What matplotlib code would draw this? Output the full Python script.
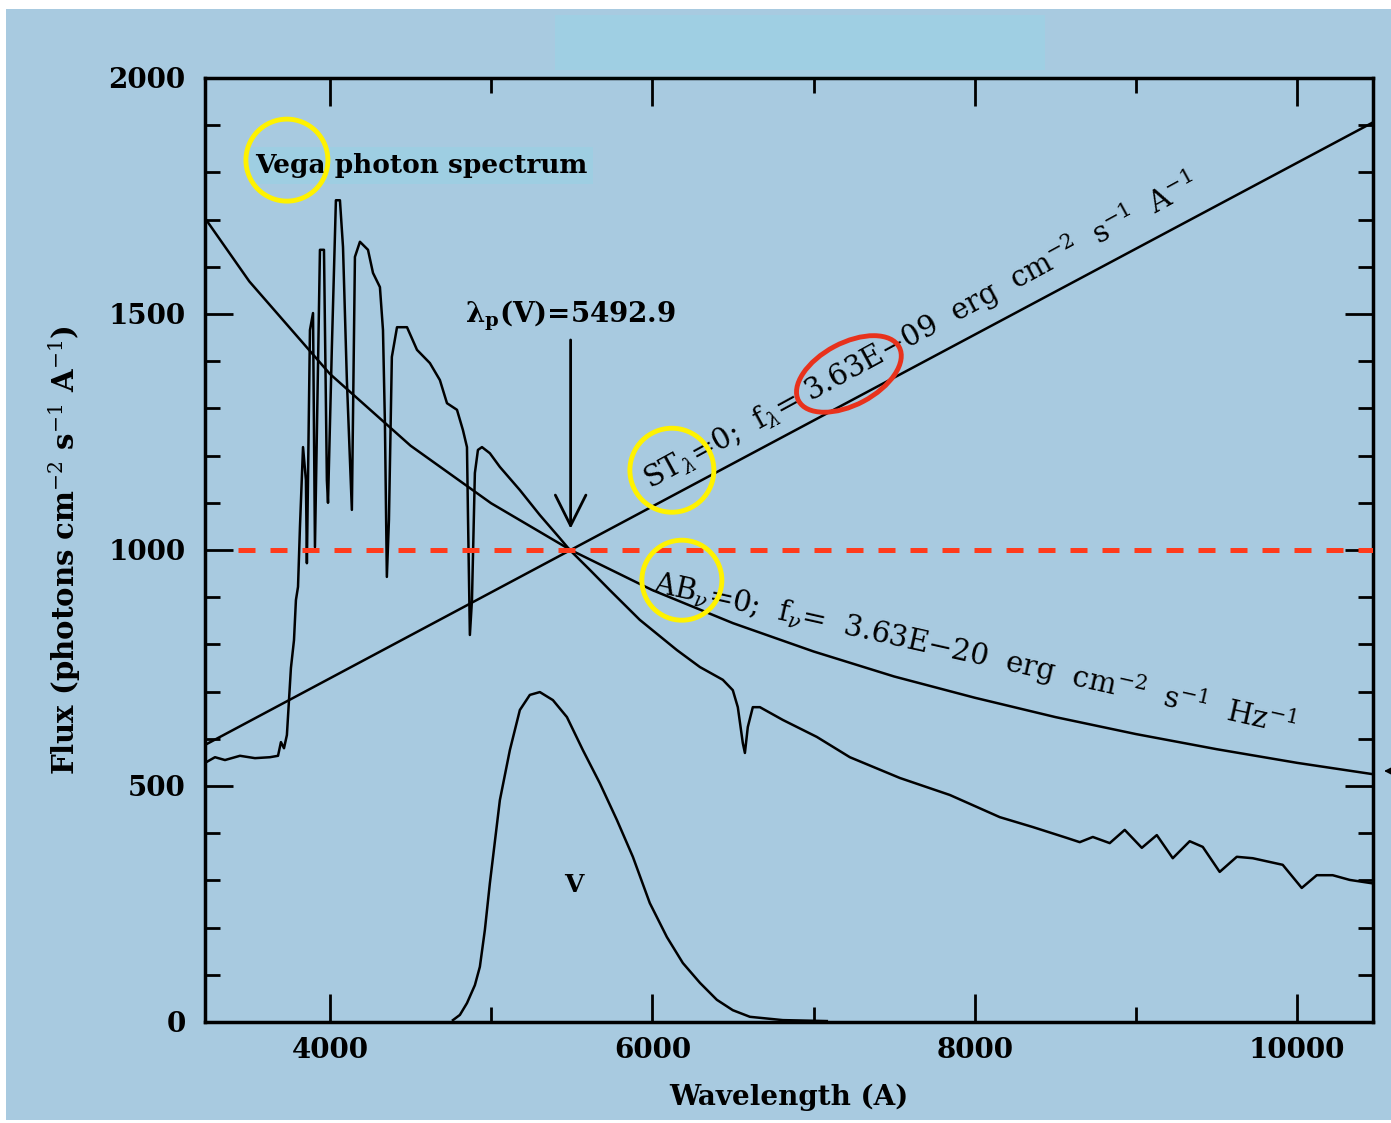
import matplotlib
matplotlib.use('Agg')
import matplotlib.pyplot as plt
from matplotlib.patches import Ellipse, Rectangle
from matplotlib.transforms import ScaledTranslation
from matplotlib.ticker import MultipleLocator

plt.rcParams['font.family'] = ['DejaVu Serif']
plt.rcParams['mathtext.fontset'] = 'dejavuserif'

# ---------------------------------------------------------------
# Datos
# ---------------------------------------------------------------
vega_wave = [3225, 3287, 3349, 3442, 3535, 3628, 3678, 3696, 3715, 3733,
             3746, 3758, 3777, 3789, 3802, 3814, 3833, 3851, 3857, 3876,
             3895, 3907, 3938, 3963, 3981, 3988, 4012, 4037, 4062, 4081,
             4105, 4136, 4155, 4186, 4236, 4267, 4310, 4329, 4341, 4353,
             4366, 4384, 4416, 4478, 4540, 4620, 4682, 4726, 4788, 4825,
             4850, 4856, 4868, 4881, 4899, 4918, 4943, 4992, 5054, 5178,
             5302, 5426, 5488, 5612, 5736, 5922, 6152, 6295, 6437, 6499,
             6530, 6561, 6574, 6592, 6623, 6667, 6809, 7020, 7225, 7535,
             7845, 8155, 8360, 8571, 8651, 8732, 8837, 8930, 9036, 9129,
             9228, 9333, 9414, 9519, 9625, 9724, 9910, 10028, 10121, 10220,
             10326, 10462]
vega_flux = [549, 561, 555, 564, 559, 561, 564, 593, 580, 608,
             682, 750, 809, 894, 922, 1049, 1218, 1148, 972, 1466,
             1502, 1006, 1636, 1636, 1148, 1100, 1430, 1741, 1741, 1642,
             1360, 1085, 1621, 1653, 1636, 1587, 1557, 1466, 1269, 943,
             1064, 1409, 1472, 1472, 1424, 1396, 1360, 1311, 1297, 1254,
             1218, 1078, 820, 894, 1163, 1212, 1218, 1205, 1176, 1127,
             1074, 1025, 1000, 958, 915, 852, 788, 752, 725, 703,
             667, 591, 570, 625, 667, 667, 640, 604, 561, 517,
             481, 434, 413, 390, 381, 392, 379, 407, 369, 396,
             347, 383, 371, 318, 350, 347, 333, 284, 311, 311,
             301, 294]

v_wave = [4763, 4806, 4850, 4899, 4930, 4961, 4992, 5054, 5116, 5178,
          5240, 5302, 5383, 5470, 5569, 5674, 5780, 5879, 5984, 6090,
          6189, 6295, 6400, 6499, 6605, 6809, 7082]
v_resp = [4, 15, 40, 78, 117, 195, 294, 470, 576, 661,
          693, 699, 682, 646, 576, 506, 428, 350, 252, 180,
          125, 83, 47, 25, 11, 4, 2]

st_wave = [3225, 5492.9, 10470]
st_flux = [587, 1000, 1906]

ab_wave = [3225, 3500, 4000, 4500, 5000, 5492.9, 6000, 6500, 7000, 7500,
           8000, 8500, 9000, 9500, 10000, 10470]
ab_flux = [1703, 1569, 1373, 1221, 1099, 1000, 915, 845, 785, 732,
           687, 646, 610, 578, 549, 525]

lam_pivot = 5492.9
ref_level = 1000
ref_start = 3430

# ---------------------------------------------------------------
# Figura
# ---------------------------------------------------------------
bg = '#A8CAE0'
fig = plt.figure(figsize=(13.91, 11.23), dpi=100, facecolor='white')
fig.patches.append(Rectangle((6 / 1391, 3 / 1123), 1 - 6 / 1391, 1 - 12 / 1123,
                             transform=fig.transFigure, facecolor=bg,
                             edgecolor='none', zorder=-10))
fig.patches.append(Rectangle((555 / 1391, 1 - 70 / 1123), 490 / 1391, 55 / 1123,
                             transform=fig.transFigure, facecolor='#9FCFE3',
                             edgecolor='none', zorder=-9))

ax = fig.add_axes([205 / 1391, 1 - 1022 / 1123, 1168 / 1391, 944 / 1123])
ax.patch.set_alpha(0)

ax.plot(vega_wave, vega_flux, color='black', lw=1.8)
ax.plot(v_wave, v_resp, color='black', lw=1.8)
ax.plot(st_wave, st_flux, color='black', lw=1.8)
ax.plot(ab_wave, ab_flux, color='black', lw=1.8)
ax.plot([ref_start, 10470], [ref_level, ref_level], color='#FF3B1C', lw=3.6,
        dashes=(3.4, 3.0), zorder=5)

ax.set_xlim(3225, 10470)
ax.set_ylim(0, 2000)

ax.xaxis.set_major_locator(MultipleLocator(2000))
ax.xaxis.set_minor_locator(MultipleLocator(1000))
ax.yaxis.set_major_locator(MultipleLocator(500))
ax.yaxis.set_minor_locator(MultipleLocator(100))
ax.tick_params(which='both', direction='in', top=True, right=True,
               width=2, colors='black')
ax.tick_params(which='major', length=20, labelsize=20)
ax.tick_params(axis='x', which='major', pad=11)
ax.tick_params(axis='y', which='major', pad=14)
ax.tick_params(which='minor', length=11)
for lab in ax.get_xticklabels() + ax.get_yticklabels():
    lab.set_fontweight('bold')
for sp in ax.spines.values():
    sp.set_linewidth(2.5)

ax.set_xlabel('Wavelength (A)', fontsize=20, fontweight='bold', labelpad=14)
ax.set_ylabel(r'Flux (photons cm$^{-2}$ s$^{-1}$ A$^{-1}$)', fontsize=21,
              fontweight='bold', labelpad=18)

# textos
ax.text(3535, 1815, 'Vega photon spectrum', fontsize=19, fontweight='bold',
        va='center', ha='left',
        bbox=dict(boxstyle='square,pad=0.22', facecolor='#9ECEE2', edgecolor='none'))
ax.text(lam_pivot, 1460, r'λ$_\mathbf{p}$(V)=5492.9', fontsize=20, fontweight='bold',
        ha='center', va='bottom')
ax.annotate('', xy=(lam_pivot, 1045), xytext=(lam_pivot, 1445),
            arrowprops=dict(arrowstyle='->,head_length=1.1,head_width=0.55',
                            mutation_scale=20, lw=2, color='black',
                            shrinkA=0, shrinkB=0))
ax.text(5510, 290, 'V', fontsize=18, fontweight='bold', ha='center', va='center')

ax.text(5985, 1127,
        r'ST$_\lambda$=0;  f$_\lambda$= 3.63E$-$09  erg  cm$^{-2}$  s$^{-1}$  A$^{-1}$',
        fontsize=21, rotation=28.6, rotation_mode='anchor', ha='left', va='baseline')
ax.text(5997, 911,
        r'AB$_\nu$=0;  f$_\nu$=  3.63E$-$20  erg  cm$^{-2}$  s$^{-1}$  Hz$^{-1}$',
        fontsize=21, rotation=-12.6, rotation_mode='anchor', ha='left', va='baseline')

# marcas de resaltado
def ring(cx, cy, w, h, ang, col):
    tr = fig.dpi_scale_trans + ScaledTranslation(cx, cy, ax.transData)
    ax.add_patch(Ellipse((0, 0), w, h, angle=ang, transform=tr, fill=False,
                         edgecolor=col, lw=3.5, zorder=6, clip_on=False))

ring(3733, 1826, 0.82, 0.82, 0, '#FFF200')
ring(6121, 1169, 0.84, 0.84, 0, '#FFF200')
ring(6183, 936, 0.80, 0.80, 0, '#FFF200')
ring(7219, 1373, 1.14, 0.62, 28, '#E8321C')

# flecha cortada en el borde derecho
ax.annotate('', xy=(1384, 1123 - 771), xycoords='figure pixels',
            xytext=(1400, 1123 - 771), textcoords='figure pixels',
            arrowprops=dict(arrowstyle='-|>,head_length=0.5,head_width=0.25',
                            mutation_scale=14, lw=1.2, color='black',
                            shrinkA=0, shrinkB=0), annotation_clip=False)

fig.savefig('out.png', dpi=100, facecolor='white')
